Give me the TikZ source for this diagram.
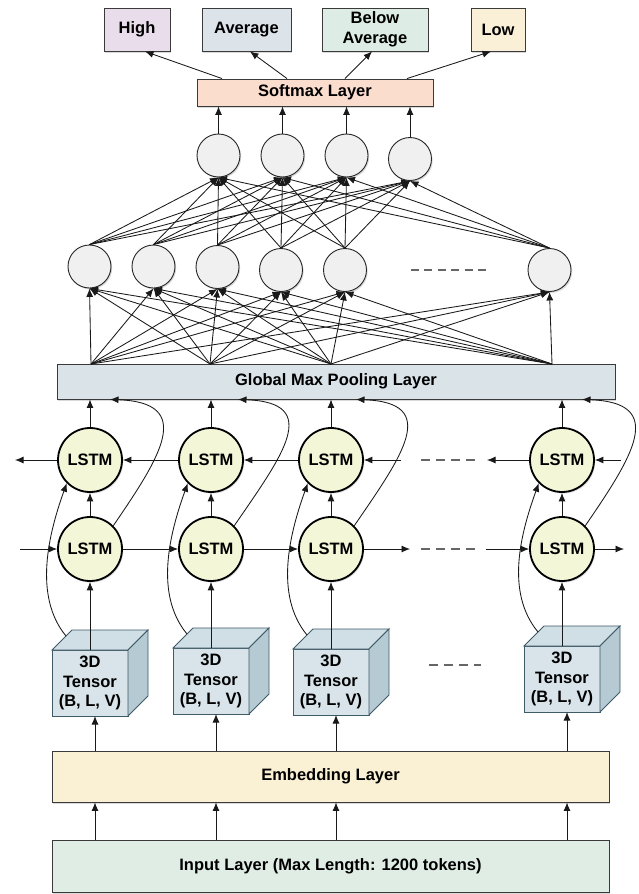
\documentclass[tikz,border=0pt]{standalone}
\usepackage{fontspec}
\setmainfont{Liberation Sans}
\usetikzlibrary{positioning,arrows.meta,shadows}

\definecolor{highc}{HTML}{E9DDEB}
\definecolor{avgc}{HTML}{DCE4EA}
\definecolor{belowc}{HTML}{DDEDE5}
\definecolor{lowc}{HTML}{FAF0D8}
\definecolor{softc}{HTML}{FBDDCE}
\definecolor{densec}{HTML}{F0F0F0}
\definecolor{gmpc}{HTML}{D9E3E8}
\definecolor{lstmc}{HTML}{F4F6D8}
\definecolor{tfront}{HTML}{D9E4EA}
\definecolor{tside}{HTML}{B6CAD4}
\definecolor{ttop}{HTML}{D0DEE5}
\definecolor{tline}{HTML}{3E5A66}
\definecolor{embc}{HTML}{FAF0D3}
\definecolor{inpc}{HTML}{DFEDE5}
\definecolor{boxline}{HTML}{3A3A3A}

\tikzset{
  softshadow/.style={drop shadow={shadow xshift=1.2pt, shadow yshift=-1.5pt, opacity=0.3}},
  layerbox/.style={draw=boxline, line width=0.9pt, softshadow},
  classbox/.style={layerbox, align=center, inner sep=2pt, minimum height=43pt},
  neuron/.style={draw=black!85, circle, fill=densec, minimum size=43pt, inner sep=0pt, line width=0.9pt, softshadow},
  lstm/.style={draw=black, circle, fill=lstmc, minimum size=64pt, inner sep=0pt, line width=1.8pt, softshadow},
  tensorbox/.style={draw=tline, fill=tfront, minimum width=76pt, minimum height=66pt, inner sep=0pt, outer sep=0pt, align=center, line width=0.9pt},
  conn/.style={->, line width=0.85pt, draw=black!90},
  gap/.style={dash pattern=on 9pt off 6pt, line width=1.1pt, draw=black!60}
}

\begin{document}
\begin{tikzpicture}[x=1pt, y=-1pt, >={Latex[length=8.5pt,width=7pt]}, every node/.style={font=\fontsize{16.5}{19.5}\selectfont\bfseries}]
  \useasboundingbox (0,0) rectangle (638,894);

  % output classes
  \node[classbox, fill=highc, minimum width=66pt] (high) at (137,29.5) {High};
  \node[classbox, fill=avgc, minimum width=89pt] (avg) at (246.5,29.5) {Average};
  \node[classbox, fill=belowc, minimum width=106pt] (below) at (375,29.5) {Below\\Average};
  \node[classbox, fill=lowc, minimum width=54pt] (low) at (498,29.5) {Low};

  \node[layerbox, fill=softc, minimum width=236pt, minimum height=27pt] (soft) at (315,92.5) {Softmax Layer};

  \draw[conn] ([xshift=-93pt]soft.north) -- ([xshift=8pt]high.south);
  \draw[conn] ([xshift=-28pt]soft.north) -- ([xshift=3.5pt]avg.south);
  \draw[conn] ([xshift=30pt]soft.north) -- ([xshift=-3pt]below.south);
  \draw[conn] ([xshift=92pt]soft.north) -- ([xshift=-7pt]low.south);

  % dense layers
  \foreach \i/\x/\y in {1/218.5/155.5, 2/282.5/155.5, 3/346.5/155.5, 4/410/159}
    \node[neuron] (e\i) at (\x,\y) {};
  \foreach \i/\x/\y in {1/89.5/266.5, 2/153.5/266.5, 3/217.5/267, 4/281/270, 5/345/270, 6/549.5/270}
    \node[neuron] (d\i) at (\x,\y) {};
  \draw[gap, dash pattern=on 8pt off 5.4pt] (411,270) -- (486,270);

  \foreach \i in {1,...,4}
    \draw[conn] (e\i.north) -- (e\i.north |- soft.south);
  \foreach \s in {1,...,6}
    \foreach \t in {1,...,4}
      \draw[conn] (d\s.north) -- (e\t.south);

  % pooling
  \node[layerbox, fill=gmpc, minimum width=558pt, minimum height=35pt] (gmp) at (336,381.5) {Global Max Pooling Layer};
  \foreach \i/\x in {1/91, 2/210, 3/331, 4/552}
    \coordinate (g\i) at (\x,364);
  \foreach \s in {1,...,4}
    \foreach \t in {1,...,6}
      \draw[conn] (g\s) -- (d\t.south);

  % bidirectional LSTM
  \foreach \i/\x in {1/90, 2/211, 3/331, 4/562} {
    \node[lstm] (b\i) at (\x,460) {LSTM};
    \node[lstm] (f\i) at (\x,549) {LSTM};
  }

  % 3D tensors
  \foreach \i/\x/\y in {1/90/683, 2/211/681, 3/331/682, 4/562/679} {
    \node[tensorbox] (t\i) at (\x,\y) {3D\\Tensor\\(B, L, V)};
    \filldraw[fill=ttop, draw=tline, line width=0.9pt] (t\i.north west) -- ++(20,-20) -- ++(76,0) -- (t\i.north east) -- cycle;
    \filldraw[fill=tside, draw=tline, line width=0.9pt] (t\i.north east) -- ++(20,-20) -- ++(0,66) -- (t\i.south east) -- cycle;
  }
  \draw[gap] (429,665) -- (481,665);

  % embedding and input
  \node[layerbox, fill=embc, minimum width=557pt, minimum height=51pt] (emb) at (330.5,776.5) {Embedding Layer};
  \node[layerbox, fill=inpc, minimum width=557pt, minimum height=52pt] (inp) at (330.5,866) {Input Layer (Max Length: 1200 tokens)};

  \foreach \i in {1,...,4} {
    \draw[conn] ([xshift=5pt]t\i.south |- emb.north) -- ([xshift=5pt]t\i.south);
    \draw[conn] ([xshift=5pt]t\i.south |- inp.north) -- ([xshift=5pt]t\i.south |- emb.south);
    \draw[conn] (t\i.north) -- (f\i.south);
    \draw[conn] (f\i.north) -- (b\i.south);
    \draw[conn] (b\i.north) -- (b\i.north |- gmp.south);
  }
  \foreach \i/\d in {1/20, 2/27, 3/25, 4/20} {
    \draw[conn] (f\i.45) .. controls +(48,-70) and +(85,3) .. ([xshift=\d pt]b\i.north |- gmp.south);
    \draw[conn] ([xshift=14pt,yshift=14pt]t\i.north west) .. controls +(-33,-40) and +(-18,50) .. (b\i.225);
  }

  % backward row
  \coordinate (bl) at (15,460);
  \coordinate (b3in) at (401,460);
  \coordinate (b4out) at (487,460);
  \coordinate (b4in) at (621,460);
  \draw[conn] (b1.west) -- (bl);
  \draw[conn] (b2.west) -- (b1.east);
  \draw[conn] (b3.west) -- (b2.east);
  \draw[conn] (b3in) -- (b3.east);
  \draw[conn] (b4.west) -- (b4out);
  \draw[conn] (b4in) -- (b4.east);
  \draw[gap] (421,460) -- (476,460);

  % forward row
  \coordinate (fl) at (20,549);
  \coordinate (f3out) at (410,549);
  \coordinate (f4in) at (486,549);
  \coordinate (f4out) at (624,549);
  \draw[conn] (fl) -- (f1.west);
  \draw[conn] (f1.east) -- (f2.west);
  \draw[conn] (f2.east) -- (f3.west);
  \draw[conn] (f3.east) -- (f3out);
  \draw[conn] (f4in) -- (f4.west);
  \draw[conn] (f4.east) -- (f4out);
  \draw[gap] (421,549) -- (476,549);
\end{tikzpicture}
\end{document}
